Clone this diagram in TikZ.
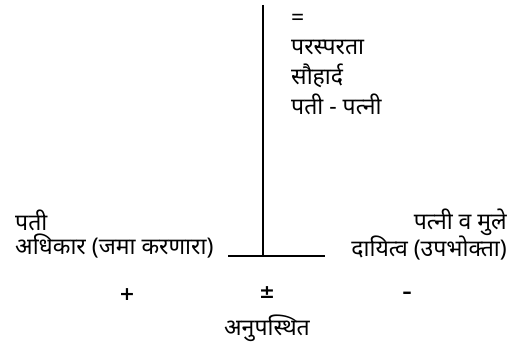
\documentclass[tikz,border=0pt]{standalone}
\usepackage{fontspec}
\newfontfamily\dev[Script=Devanagari]{Noto Sans}
\newfontfamily\symf{DejaVu Sans}
\begin{document}
\begin{tikzpicture}[x=1pt,y=-1pt,
  txt/.style={inner sep=0pt, font=\dev\fontsize{23}{25}\selectfont},
  sym/.style={inner sep=0pt, font=\symf\bfseries\fontsize{19}{21}\selectfont},
  ln/.style={line width=1.5pt}]
\useasboundingbox (0,0) rectangle (525,352);
\node[txt, anchor=west] (eq) at (291,20) {=};
\node[txt, anchor=west] (p1) at (291,48) {परस्परता};
\node[txt, anchor=west] (p2) at (291,76) {सौहार्द};
\node[txt, anchor=west] (p3) at (291,104) {पती - पत्नी};
\node[txt, anchor=west] (l1) at (15,220) {पती};
\node[txt, anchor=west] (l2) at (15,246) {अधिकार (जमा करणारा)};
\node[txt, anchor=east] (r1) at (507,222) {पत्नी व मुले};
\node[txt, anchor=east] (r2) at (507,248) {दायित्व (उपभोक्ता)};
\node[sym] (plus) at (127,295) {+};
\node[sym] (pm) at (267,293) {±};
\node[sym] (minus) at (407,295) {–};
\node[txt] (ab) at (267,328) {अनुपस्थित};
\coordinate (top) at (263,5);
\coordinate (cross) at (263,256);
\coordinate (hl) at (228,256);
\coordinate (hr) at (325,256);
\draw[ln] (top) -- (cross);
\draw[ln] (hl) -- (hr);
\end{tikzpicture}
\end{document}
